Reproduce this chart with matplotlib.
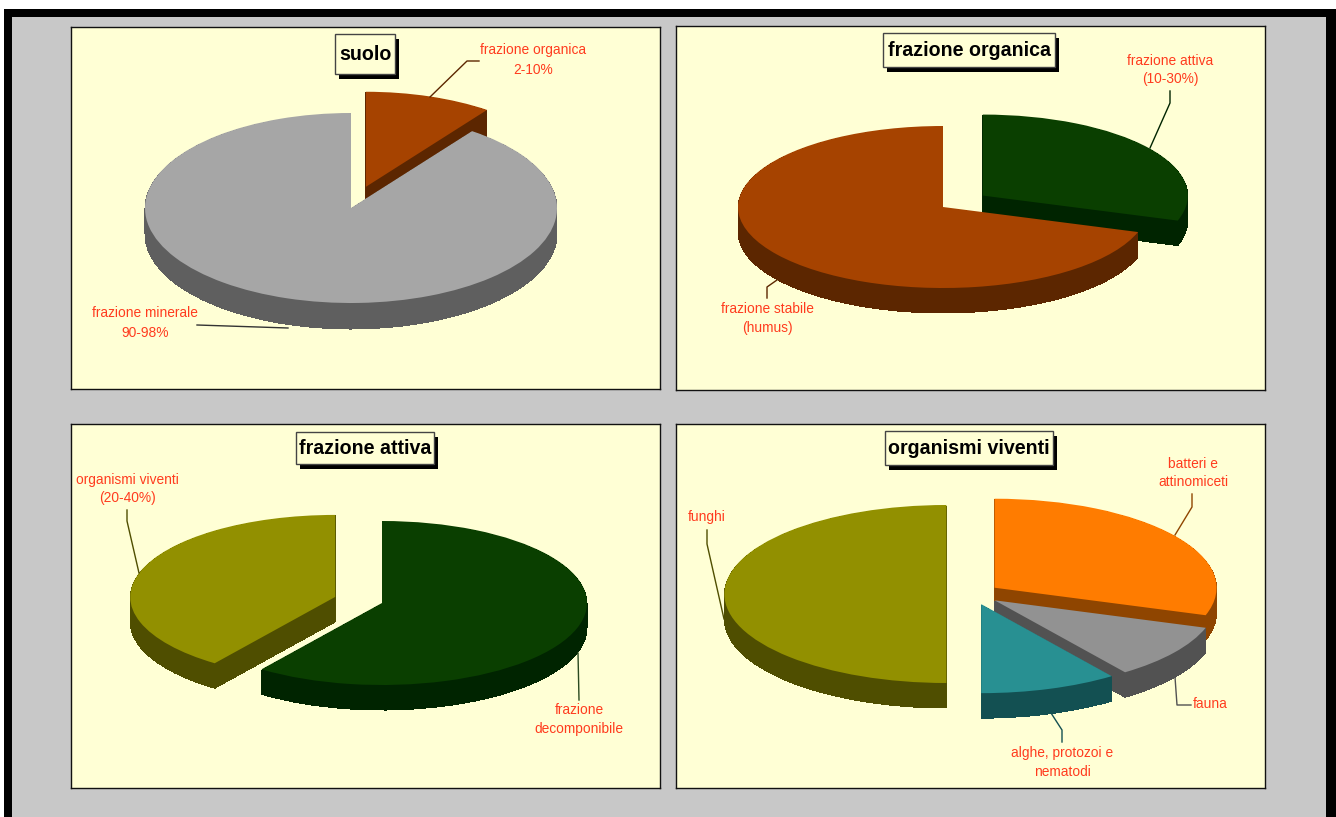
import matplotlib
matplotlib.use('Agg')
import matplotlib.pyplot as plt
from matplotlib.patches import Rectangle

plt.rcParams['font.family'] = ['Liberation Sans', 'DejaVu Sans']

W, H = 1336, 817

# valori delle torte
suolo_values = [10, 90]
organica_values = [30, 70]
attiva_values = [60, 40]
viventi_values = [30, 10, 10, 50]

# colori
suolo_colors = ['#A64300', '#A6A6A6']
suolo_sides = ['#5C2600', '#5F5F5F']
organica_colors = ['#0A3F00', '#A64300']
organica_sides = ['#002400', '#5C2600']
attiva_colors = ['#0A3F00', '#929000']
attiva_sides = ['#002400', '#4F4E00']
viventi_colors = ['#FF7C00', '#929292', '#289092', '#929000']
viventi_sides = ['#8F4500', '#525252', '#135052', '#4F4E00']

RED = '#FF3B1E'

fig = plt.figure(figsize=(W / 100, H / 100), dpi=100, facecolor='white')


def pixel_axes(zorder):
    a = fig.add_axes([0, 0, 1, 1], zorder=zorder)
    a.set_xlim(0, W)
    a.set_ylim(H, 0)
    a.axis('off')
    return a


bg = pixel_axes(0)
over = pixel_axes(5)

# cornice nera e fondo grigio
bg.add_patch(Rectangle((4, 9), W - 4, H - 9, fc='black', ec='none'))
bg.add_patch(Rectangle((12, 17), 1314, H - 17, fc='#C8C8C8', ec='none'))


def draw_pie(box, cx, cy, rx, ry, depth, values, colors, sides, explode):
    x0, y0, x1, y1 = box
    ax = fig.add_axes([x0 / W, 1 - y1 / H, (x1 - x0) / W, (y1 - y0) / H], zorder=1)
    # lato della torta: strati sovrapposti, dal basso verso l'alto
    for k in range(depth, 0, -1):
        ax.pie(values, explode=explode, colors=sides, startangle=90, counterclock=False,
               center=(0, -k / ry), frame=True, wedgeprops=dict(linewidth=0, antialiased=False))
    ax.pie(values, explode=explode, colors=colors, startangle=90, counterclock=False,
           center=(0, 0), frame=True, wedgeprops=dict(linewidth=0))
    ax.set_aspect('auto')
    ax.set_xlim((x0 - cx) / rx, (x1 - cx) / rx)
    ax.set_ylim((cy - y1) / ry, (cy - y0) / ry)
    ax.set_xticks([])
    ax.set_yticks([])
    ax.set_facecolor('#FFFFD5')
    for s in ax.spines.values():
        s.set_color('#111111')
        s.set_linewidth(1.0)
    return ax


draw_pie((71, 27, 660, 389), 351, 208, 206, 95, 26, suolo_values, suolo_colors, suolo_sides, [0.235, 0])
draw_pie((676, 26, 1265, 390), 943, 207, 205, 81, 25, organica_values, organica_colors, organica_sides, [0.24, 0])
draw_pie((71, 424, 660, 788), 382, 603, 205, 82, 25, attiva_values, attiva_colors, attiva_sides, [0, 0.24])
draw_pie((676, 424, 1265, 788), 973, 594, 222, 89, 25, viventi_values, viventi_colors, viventi_sides,
         [0.12, 0.12, 0.12, 0.12])


def title(text, x0, y0, x1, y1):
    over.add_patch(Rectangle((x0 + 4, y0 + 5), x1 - x0, y1 - y0, fc='black', ec='none'))
    over.add_patch(Rectangle((x0, y0), x1 - x0, y1 - y0, fc='#FFFFD5', ec='#444444', lw=1))
    over.text((x0 + x1) / 2, (y0 + y1) / 2, text, fontsize=14.1, fontweight='bold',
              color='black', ha='center', va='center')


title('suolo', 335, 34, 395, 74)
title('frazione organica', 883, 33, 1055, 67)
title('frazione attiva', 296, 432, 434, 464)
title('organismi viventi', 885, 431, 1053, 465)


def label(text, x, y, spacing=1.38):
    over.text(x, y, text, fontsize=9.9, color=RED, ha='center', va='center', linespacing=spacing)


def leader(xs, ys, color):
    over.plot(xs, ys, color=color, lw=1)


label('frazione organica\n2-10%', 533, 60, 1.53)
leader([430, 467, 479], [97, 61, 61], '#5C2600')
label('frazione minerale\n90-98%', 145, 323, 1.53)
leader([197, 288], [325, 328], '#333333')

label('frazione attiva\n(10-30%)', 1170, 70)
leader([1170, 1170, 1150], [91, 103, 148], '#002400')
label('frazione stabile\n(humus)', 767, 318.5)
leader([767, 767, 777], [298, 287, 280], '#5C2600')

label('organismi viventi\n(20-40%)', 127, 489)
leader([127, 127, 139], [510, 521, 573], '#4F4E00')
label('frazione\ndecomponibile', 579, 719.5)
leader([579, 578], [700, 653], '#2A4A20')

label('batteri e\nattinomiceti', 1193, 473)
leader([1192, 1192, 1175], [494, 507, 535], '#8F4500')
label('funghi', 707, 517.5)
leader([707, 707, 724], [530, 544, 619], '#4F4E00')
label('fauna', 1210, 704)
leader([1191, 1177, 1175], [705, 705, 677], '#525252')
label('alghe, protozoi e\nnematodi', 1062, 762.5)
leader([1062, 1062, 1051], [742, 730, 713], '#135052')

fig.savefig('out.png', dpi=100)
